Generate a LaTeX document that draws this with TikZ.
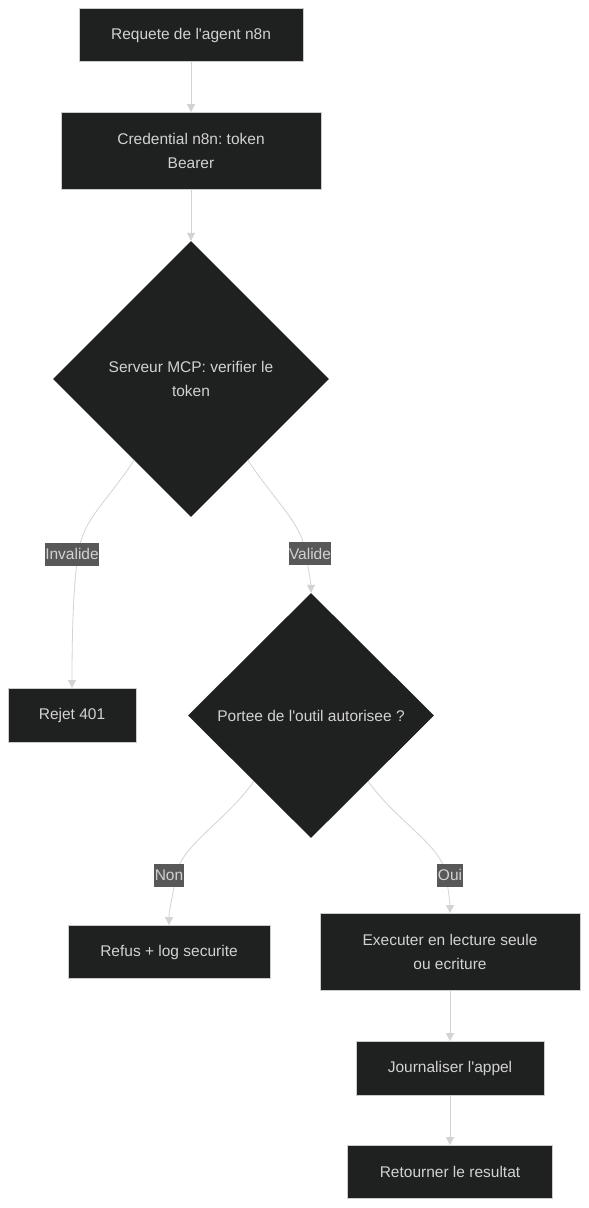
\documentclass[tikz,border=0pt]{standalone}
\usepackage{fontspec}
\setmainfont{Liberation Sans}
\usetikzlibrary{shapes.geometric,arrows.meta,calc}
\definecolor{nodefill}{RGB}{31,32,32}
\definecolor{nodeline}{RGB}{204,204,204}
\definecolor{edgeline}{RGB}{211,211,211}
\definecolor{lblfill}{RGB}{88,88,88}
\definecolor{txtgray}{RGB}{210,210,210}
\frenchspacing

\begin{document}
\begin{tikzpicture}[x=1pt, y=-1pt, >={Triangle[width=8pt,length=8pt]},
    box/.style={draw=nodeline, line width=0.8pt, fill=nodefill, text=txtgray,
        font=\fontsize{15.5}{24}\selectfont, align=center, minimum height=53pt, inner sep=0pt},
    decision/.style={diamond, fill=nodefill, text=txtgray, font=\fontsize{15.5}{24}\selectfont,
        align=center, inner sep=0pt},
    lbl/.style={fill=lblfill, text=txtgray, font=\fontsize{15.5}{17}\selectfont,
        inner xsep=0.5pt, minimum height=23pt},
    edge/.style={->, draw=edgeline, line width=0.8pt}]
    % cadre
    \useasboundingbox[fill=white] (0,0) rectangle (589,1208);

    % Noeuds
    \node[box, minimum width=224pt] (req) at (191,35) {Requete de l\textquotesingle agent n8n};
    \node[box, minimum width=260pt, minimum height=77pt] (cred) at (191,151) {Credential n8n: token\\Bearer};
    \node[decision, minimum width=276pt, minimum height=276pt] (verif) at (191,379) {Serveur MCP: verifier le\\token};
    \node[box, minimum width=128pt, minimum height=54pt] (rejet) at (72,715.5) {Rejet 401};
    \node[decision, minimum width=246pt, minimum height=245pt] (portee) at (311,715.5) {Portee de l\textquotesingle outil autorisee ?};
    \node[box, minimum width=202pt] (refus) at (169,952) {Refus + log securite};
    \node[box, minimum width=260pt, minimum height=77pt] (exec) at (450,952) {Executer en lecture seule\\ou ecriture};
    \node[box, minimum width=188pt, minimum height=54pt] (journal) at (450,1068.5) {Journaliser l\textquotesingle appel};
    \node[box, minimum width=205pt] (retour) at (450,1172) {Retourner le resultat};

    % Liens
    \draw[edge] (req) -- (cred);
    \draw[edge] (cred) -- (verif);
    \draw[edge] (verif.235) .. controls +(-30,45) and +(5,-35) .. ($(rejet.north)+(6,-134)$)
        node[lbl, xshift=-6pt] {Invalide}
        .. controls +(-5,35) and +(0,-50) .. (rejet.north);
    \draw[edge] (verif.305) .. controls +(28,42) and +(-4,-30) .. ($(portee.north)+(-5,-39)$)
        node[lbl, xshift=4pt] {Valide}
        .. controls +(3,20) and +(0,-10) .. (portee.north);
    \draw[edge] (portee.229) .. controls +(-28,40) and +(5,-30) .. ($(refus.north)+(7,-50)$)
        node[lbl, xshift=-7pt] {Non}
        .. controls +(-4,25) and +(0,-15) .. (refus.north);
    \draw[edge] (portee.311) .. controls +(28,40) and +(-4,-30) .. ($(exec.north)+(-4,-38)$)
        node[lbl, xshift=4pt] {Oui}
        .. controls +(3,20) and +(0,-10) .. (exec.north);
    \draw[edge] (exec) -- (journal);
    \draw[edge] (journal) -- (retour);
\end{tikzpicture}
\end{document}
